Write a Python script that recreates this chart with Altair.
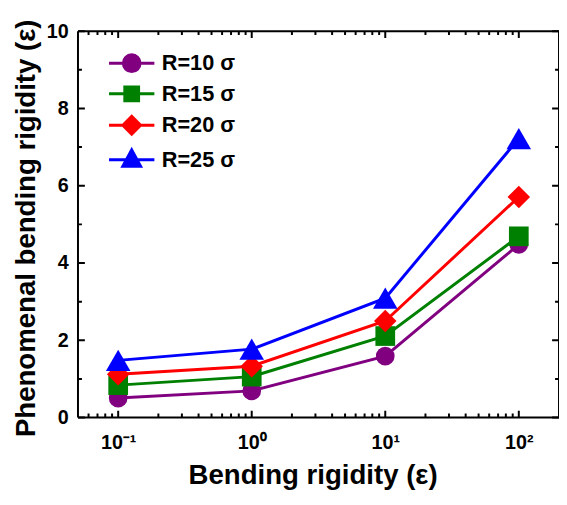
import altair as alt
import pandas as pd

# ---- data ----
x_vals = [0.1, 1, 10, 100]
series_names = ["R=10 σ", "R=15 σ", "R=20 σ", "R=25 σ"]
r10 = [0.505, 0.69, 1.59, 4.48]
r15 = [0.84, 1.06, 2.11, 4.69]
r20 = [1.12, 1.33, 2.50, 5.71]
r25 = [1.48, 1.77, 3.09, 7.22]
series_vals = [r10, r15, r20, r25]

colors = ["#800080", "#008000", "#FF0000", "#0000FF"]
shapes = ["circle", "square", "diamond", "triangle-up"]
sizes = [360, 400, 520, 620]
# legend symbols: marker + line segment through it
legend_paths = [
    "M-0.85,0A0.85,0.85 0 1,1 0.85,0A0.85,0.85 0 1,1 -0.85,0Z M-2.3,0H2.3",
    "M-0.7,-0.7H0.7V0.7H-0.7Z M-2.3,0H2.3",
    "M-0.9,0L0,-0.9L0.9,0L0,0.9Z M-2.3,0H2.3",
    "M0,-1L0.9,0.65L-0.9,0.65Z M-2.3,0H2.3",
]

x_domain = [0.05, 200]
y_domain = [0, 10]
x_major = [0.1, 1, 10, 100]
x_major_labels = ["10⁻¹", "10⁰", "10¹", "10²"]
x_minor = [0.06, 0.07, 0.08, 0.09, 0.2, 0.3, 0.4, 0.5, 0.6, 0.7, 0.8, 0.9,
           2, 3, 4, 5, 6, 7, 8, 9, 20, 30, 40, 50, 60, 70, 80, 90]
y_major = [0, 2, 4, 6, 8, 10]
y_minor = [1, 3, 5, 7, 9]

x_title = "Bending rigidity (ε)"
y_title = "Phenomenal bending rigidity (ε)"

rows = []
for name, vals in zip(series_names, series_vals):
    for xv, yv in zip(x_vals, vals):
        rows.append({"x": xv, "y": yv, "series": name})
df = pd.DataFrame(rows)

W, H = 488, 392
FONT = "Liberation Sans"
MAJOR, MINOR = 7, 4

label_expr = "".join(
    f"abs(datum.value - {v}) < {v * 0.01} ? '{lab}' : "
    for v, lab in zip(x_major, x_major_labels)
) + "''"

xscale = alt.Scale(type="log", domain=x_domain, nice=False)
yscale = alt.Scale(domain=y_domain, nice=False)

ax_x_main = alt.Axis(orient="bottom", values=x_major, labelExpr=label_expr, ticks=False,
                     domain=False, grid=False,
                     labelFont=FONT, labelFontWeight="bold", labelFontSize=20,
                     labelColor="black", labelPadding=15, title=x_title,
                     titleFont=FONT, titleFontWeight="bold", titleFontSize=28,
                     titleColor="black", titleX=238, titleY=67,
                     titleBaseline="alphabetic")
ax_y_main = alt.Axis(orient="left", values=y_major, ticks=False, format="d",
                     domain=False, grid=False,
                     labelFont=FONT, labelFontWeight="bold", labelFontSize=20,
                     labelColor="black", labelPadding=10, title=y_title,
                     titleFont=FONT, titleFontWeight="bold", titleFontSize=28,
                     titleColor="black", titleX=-44, titleY=199.5,
                     titleBaseline="alphabetic", titleAlign="center")

X = lambda f, axis=None: alt.X(f, type="quantitative", scale=xscale, axis=axis)
Y = lambda f, axis=None: alt.Y(f, type="quantitative", scale=yscale, axis=axis)

line_style = dict(stroke="black", strokeWidth=2, fill="black")

layers = []

# frame (box) drawn from the axis domains, as zero-thickness stroked rects
frame_df = pd.DataFrame({
    "x": [x_domain[0], x_domain[0], x_domain[0], x_domain[1]],
    "x2": [x_domain[1], x_domain[1], x_domain[0], x_domain[1]],
    "y": [y_domain[0], y_domain[1], y_domain[0], y_domain[0]],
    "y2": [y_domain[0], y_domain[1], y_domain[1], y_domain[1]],
})
layers.append(alt.Chart(frame_df).mark_rect(**line_style).encode(
    x=X("x", ax_x_main), x2="x2", y=Y("y", ax_y_main), y2="y2"))

# inward ticks on all four sides
for vals, length in ((x_major, MAJOR), (x_minor, MINOR)):
    tdf = pd.DataFrame({"x": vals, "ylo": [y_domain[0]] * len(vals), "yhi": [y_domain[1]] * len(vals)})
    layers.append(alt.Chart(tdf).mark_rect(y2Offset=-length, **line_style).encode(
        x=X("x"), x2="x", y=Y("ylo"), y2="ylo"))
    layers.append(alt.Chart(tdf).mark_rect(y2Offset=length, **line_style).encode(
        x=X("x"), x2="x", y=Y("yhi"), y2="yhi"))
for vals, length in ((y_major, MAJOR), (y_minor, MINOR)):
    tdf = pd.DataFrame({"y": vals, "xlo": [x_domain[0]] * len(vals), "xhi": [x_domain[1]] * len(vals)})
    layers.append(alt.Chart(tdf).mark_rect(x2Offset=length, **line_style).encode(
        y=Y("y"), y2="y", x=X("xlo"), x2="xlo"))
    layers.append(alt.Chart(tdf).mark_rect(x2Offset=-length, **line_style).encode(
        y=Y("y"), y2="y", x=X("xhi"), x2="xhi"))

# data series: line then markers
for i, name in enumerate(series_names):
    base = alt.Chart(df).transform_filter(alt.datum.series == name)
    layers.append(base.mark_line(color=colors[i], strokeWidth=3).encode(x=X("x"), y=Y("y")))
    layers.append(base.mark_point(shape=shapes[i], filled=True, color=colors[i],
                                  size=sizes[i], opacity=1).encode(x=X("x"), y=Y("y")))

legend = alt.Legend(title=None, orient="none", legendX=43, legendY=21, padding=0,
                    labelFont=FONT, labelFontWeight="bold", labelFontSize=22,
                    labelColor="black", labelOffset=19, symbolOffset=0,
                    symbolSize=400, symbolStrokeWidth=3, rowPadding=3,
                    labelBaseline="middle")

# legend proxy (no marks drawn, only supplies the legend)
proxy = alt.Chart(df).transform_filter(alt.datum.series == "none").mark_point(
    filled=True, size=400, strokeWidth=3, opacity=1
).encode(
    fill=alt.Fill("series:N", scale=alt.Scale(domain=series_names, range=colors), legend=legend),
    stroke=alt.Stroke("series:N", scale=alt.Scale(domain=series_names, range=colors), legend=legend),
    shape=alt.Shape("series:N", scale=alt.Scale(domain=series_names, range=legend_paths), legend=legend),
)
layers.append(proxy)

chart = alt.layer(*layers).resolve_axis(x="independent", y="independent").properties(
    width=W, height=H,
    autosize=alt.AutoSizeParams(type="none"),
    padding={"left": 71, "top": 20, "right": 0, "bottom": 71},
    background="white",
).configure_view(stroke=None)

chart.save("out.html", embed_options={"renderer": "svg", "actions": False})
